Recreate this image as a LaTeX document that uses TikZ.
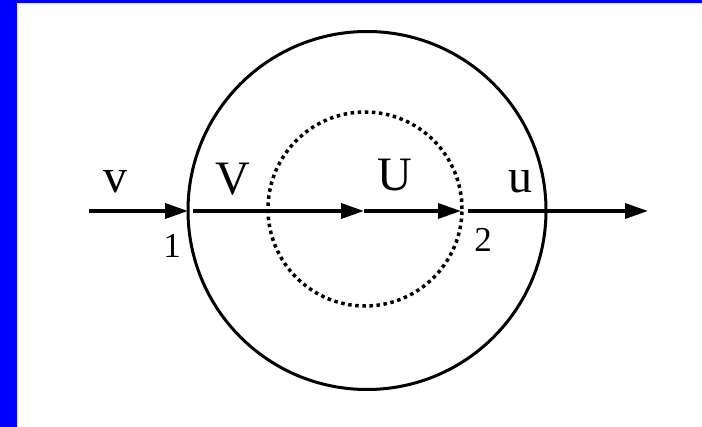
\documentclass[tikz,border=0pt]{standalone}
\usepackage{fontspec}
\setmainfont{Liberation Serif}
\usetikzlibrary{arrows.meta}
\tikzset{
  big/.style={font=\fontsize{48}{50}\selectfont, anchor=base, inner sep=0pt},
  small/.style={font=\fontsize{35}{37}\selectfont, anchor=base, inner sep=0pt},
  vec/.style={line width=3.5pt, -{Triangle[length=23pt,width=15pt]}},
  plain/.style={line width=3.5pt},
  ring/.style={line width=3pt},
  dotring/.style={line width=3.5pt, dash pattern=on 3.5pt off 3.6pt},
}
\begin{document}
\begin{tikzpicture}[x=1pt,y=-1pt]
\useasboundingbox (0,0) rectangle (702,427);
\fill[white] (0,0) rectangle (702,427);
\fill[blue] (0,0) rectangle (17,427);
\fill[blue] (0,0) rectangle (702,3);
% circles
\coordinate (c) at (367,210.5);
\coordinate (d) at (365,209);
\draw[ring] (c) circle[radius=179pt];
\draw[dotring] (d) circle[radius=97pt];
% points on the axis
\coordinate (a0) at (89,211);
\coordinate (a1) at (188,211);
\coordinate (b0) at (193,211);
\coordinate (b1) at (364,211);
\coordinate (b2) at (461,211);
\coordinate (e0) at (468,211);
\coordinate (e1) at (648,211);
\draw[vec] (a0) -- (a1);
\draw[vec] (b0) -- (b1);
\draw[vec] (b1) -- (b2);
\draw[vec] (e0) -- (e1);
% labels
\node[big] (lv) at (115,193) {v};
\node[big] (lV) at (233,195) {V};
\node[big] (lU) at (395,191) {U};
\node[big] (lu) at (520,193) {u};
\node[small] (l1) at (172,258) {1};
\node[small] (l2) at (483,252) {2};
\end{tikzpicture}
\end{document}
